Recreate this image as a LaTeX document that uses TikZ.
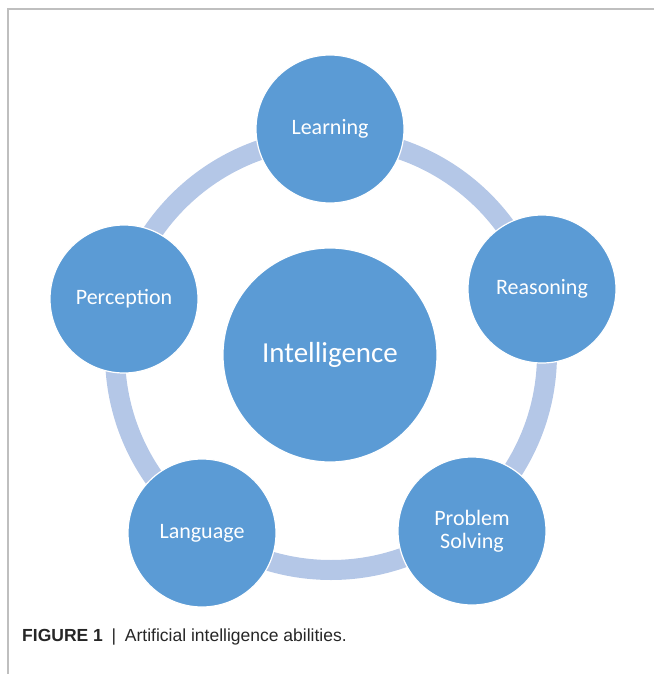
\documentclass[tikz,border=0pt]{standalone}
\usepackage{fontspec}
\setmainfont{Carlito}
\newfontfamily\capfont{Liberation Sans}
\definecolor{abilityblue}{HTML}{5B9BD5}
\definecolor{ringblue}{HTML}{B4C7E7}
\tikzset{
	ability/.style={circle, fill=abilityblue, draw=white, line width=1.2pt, minimum size=148pt, inner sep=0pt, text=white, align=center, font=\fontsize{22}{23}\selectfont},
	core/.style={ability, minimum size=214pt, font=\fontsize{29}{31}\selectfont},
	ring/.style={draw=ringblue, line width=20pt},
	frameline/.style={draw=black!25, line width=1.2pt}
}

\begin{document}
\begin{tikzpicture}[x=1pt, y=-1pt]
		\useasboundingbox (0,0) rectangle (654,674);
		\draw [frameline] (654,9) -- (8,9) -- (8,674);
		\coordinate (hub) at (331,354);
		\draw [ring] (hub) circle [radius=216];
		\node [core] at (330,355) (intel) {Intelligence};
		\node [ability] at (330,129) (learn) {Learning};
		\node [ability] at (542,289) (reason) {Reasoning};
		\node [ability] at (472,531) (solve) {Problem\\Solving};
		\node [ability] at (202,533) (lang) {Language};
		\node [ability] at (124,299) (percep) {Perception};
		\node [anchor=base west, inner sep=0pt, text=black!85, font=\capfont\fontsize{17.5}{20}\selectfont] at (22,641) (caption) {\textbf{FIGURE 1}\enspace|\enspace Artificial intelligence abilities.};
\end{tikzpicture}
\end{document}
